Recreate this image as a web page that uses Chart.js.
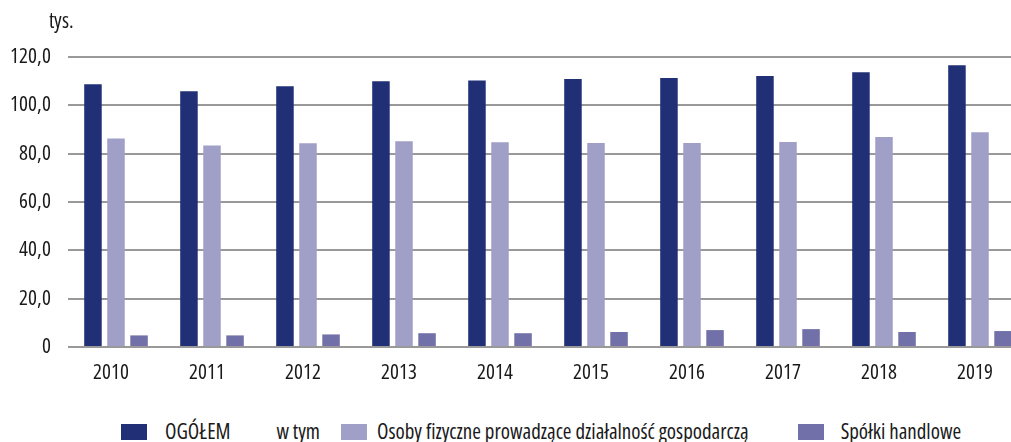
<!DOCTYPE html>
<html>
<head>
<meta charset="utf-8">
<script src="https://cdn.jsdelivr.net/npm/chart.js@4"></script>
<style>
  @font-face {
    font-family: 'OSCond';
    src: local('Open Sans Condensed'), local('Open Sans Condensed Regular'),
         local('OpenSansCondensed-Regular'), local('OpenSans-CondensedRegular'),
         local('OpenSans_Condensed-Regular');
  }
  html, body { margin: 0; padding: 0; background: #fff; overflow: hidden; width: 1011px; height: 442px; }
  #wrap { position: absolute; left: 0; top: 0; width: 1030px; height: 400px; }
  #legend { position: absolute; left: 121px; top: 421px; height: 21px; line-height: 21px; display: flex; align-items: center;
            font-family: "Open Sans", sans-serif; font-stretch: condensed; font-size: 21px; color: #1a1a1a; white-space: nowrap; }
  #legend .box { width: 26px; height: 16px; display: inline-block; }
</style>
</head>
<body>
<div id="wrap"><canvas id="chart"></canvas></div>
<div id="legend"></div>
<script>
var years = ['2010', '2011', '2012', '2013', '2014', '2015', '2016', '2017', '2018', '2019'];
var ogolem = [108.7, 105.8, 107.9, 110.0, 110.3, 110.9, 111.3, 112.1, 113.7, 116.6];
var osobyFizyczne = [86.3, 83.4, 84.3, 85.1, 84.7, 84.4, 84.4, 84.8, 86.9, 88.9];
var spolkiHandlowe = [4.8, 4.8, 5.2, 5.7, 5.7, 6.2, 7.0, 7.4, 6.2, 6.6];
var seriesNames = ['OGÓŁEM', 'Osoby fizyczne prowadzące działalność gospodarczą', 'Spółki handlowe'];
var seriesColors = ['#212f76', '#a09fc8', '#7170a8'];
var yTicks = [0, 20, 40, 60, 80, 100, 120];
var unitLabel = 'tys.';

var font = "'OSCond', 'Open Sans', sans-serif";

// canvas text in the condensed width, like the html legend
var fontDesc = Object.getOwnPropertyDescriptor(CanvasRenderingContext2D.prototype, 'font');
Object.defineProperty(CanvasRenderingContext2D.prototype, 'font', {
    get: function() { return fontDesc.get.call(this); },
    set: function(v) {
        fontDesc.set.call(this, v);
        if ('fontStretch' in this) this.fontStretch = 'condensed';
    }
});

var unitPlugin = {
    id: 'unitLabel',
    afterDraw: function(chart) {
        var ctx = chart.ctx;
        ctx.save();
        ctx.font = '21px ' + font;
        ctx.fillStyle = '#1a1a1a';
        ctx.textAlign = 'left';
        ctx.textBaseline = 'alphabetic';
        ctx.fillText(unitLabel, chart.chartArea.left - 19, 28);
        ctx.restore();
    }
};

var ctx = document.getElementById('chart').getContext('2d');
var chart = new Chart(ctx, {
    type: 'bar',
    data: {
        labels: years,
        datasets: [{
            label: seriesNames[0],
            data: ogolem,
            backgroundColor: seriesColors[0]
        }, {
            label: seriesNames[1],
            data: osobyFizyczne,
            backgroundColor: seriesColors[1]
        }, {
            label: seriesNames[2],
            data: spolkiHandlowe,
            backgroundColor: seriesColors[2]
        }]
    },
    options: {
        responsive: true,
        maintainAspectRatio: false,
        animation: false,
        categoryPercentage: 0.72,
        barPercentage: 0.76,
        layout: { padding: { top: 57, right: 2, left: 0, bottom: 0 } },
        plugins: {
            legend: { display: false },
            tooltip: { enabled: false }
        },
        scales: {
            x: {
                grid: { display: false, drawTicks: false },
                border: { display: false },
                ticks: {
                    color: '#1a1a1a',
                    font: { family: font, size: 21 },
                    padding: 13,
                    labelOffset: -5,
                    maxRotation: 0
                },
                afterFit: function(scale) { scale.height = 53; }
            },
            y: {
                min: 0,
                max: 120,
                afterBuildTicks: function(scale) {
                    scale.ticks = yTicks.map(function(v) { return { value: v }; });
                },
                grid: { color: '#999999', lineWidth: 2, drawTicks: false },
                border: { display: false },
                ticks: {
                    color: '#1a1a1a',
                    font: { family: font, size: 21 },
                    padding: 17,
                    callback: function(v) { return v === 0 ? '0' : v.toFixed(1).replace('.', ','); }
                },
                afterFit: function(scale) { scale.width = 68; }
            }
        }
    },
    plugins: [unitPlugin]
});

// legend below the chart, "w tym" sits between the first and second item
var legend = document.getElementById('legend');
var boxGaps = [0, 21, 49];
var textGaps = [18, 10, 17];
seriesNames.forEach(function(name, i) {
    if (i === 1) {
        var wt = document.createElement('span');
        wt.textContent = 'w tym';
        wt.style.marginLeft = '46px';
        legend.appendChild(wt);
    }
    var box = document.createElement('span');
    box.className = 'box';
    box.style.background = seriesColors[i];
    box.style.marginLeft = boxGaps[i] + 'px';
    legend.appendChild(box);
    var lbl = document.createElement('span');
    lbl.style.marginLeft = textGaps[i] + 'px';
    lbl.textContent = name;
    legend.appendChild(lbl);
});
</script>
</body>
</html>
